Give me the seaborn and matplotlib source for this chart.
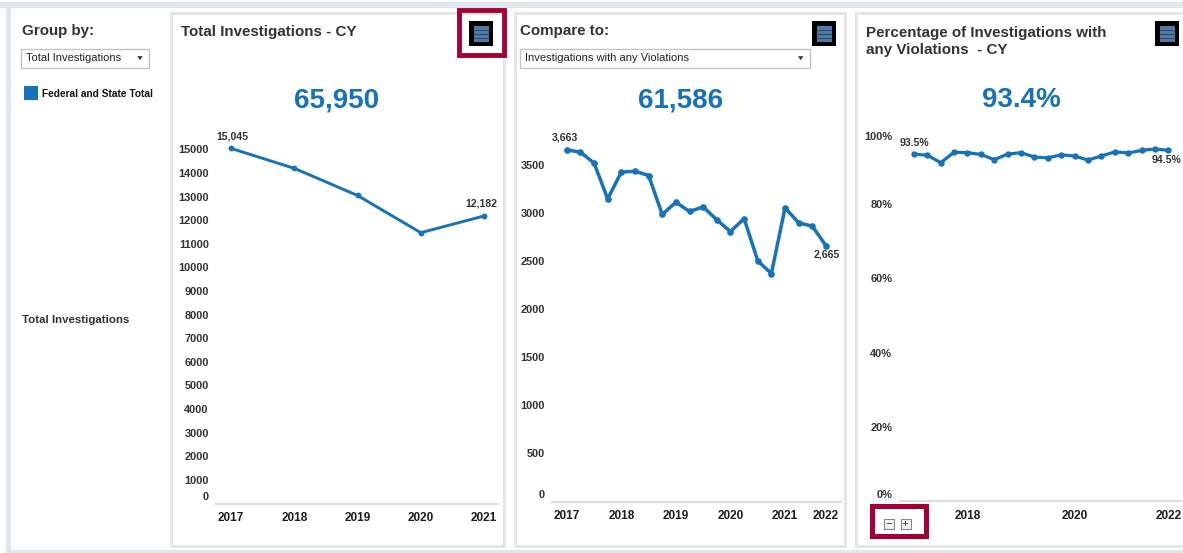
import matplotlib
matplotlib.use('Agg')
import matplotlib.pyplot as plt
from matplotlib.patches import Rectangle, Polygon
from matplotlib.transforms import Affine2D
import pandas as pd
import seaborn as sns

# data
years_total = ['2017', '2018', '2019', '2020', '2021']
total_inv = [15045, 14200, 13050, 11473, 12182]

violations = [3663, 3639, 3527, 3153, 3431, 3441, 3396, 2990, 3118, 3021,
              3069, 2934, 2812, 2948, 2507, 2375, 3059, 2903, 2868, 2665]
pct_violations = [93.5, 93.2, 91.2, 94.0, 93.9, 93.4, 92.0, 93.5, 93.9, 92.7,
                  92.5, 93.3, 93.0, 91.9, 93.0, 94.1, 93.8, 94.5, 94.9, 94.5]

ticks_total = list(range(0, 16000, 1000))
ticks_viol = list(range(0, 4000, 500))
ticks_pct = [0, 20, 40, 60, 80, 100]
xticks_viol = [0, 4, 8, 12, 16, 19]
xlabels_viol = ['2017', '2018', '2019', '2020', '2021', '2022']
xticks_pct = [4, 12, 19]
xlabels_pct = ['2018', '2020', '2022']

BLUE = '#1672b9'
DARK = '#333333'
W, H = 1183, 553

sns.set_theme(style='white')
plt.rcParams['font.family'] = ['Liberation Sans', 'DejaVu Sans']

fig = plt.figure(figsize=(W / 100, H / 100), dpi=100, facecolor='white')

# background layer in pixel coordinates
bg = fig.add_axes([0, 0, 1, 1])
bg.set_xlim(0, W)
bg.set_ylim(H, 0)
bg.axis('off')


def box(x0, y0, x1, y1, **kw):
    bg.add_patch(Rectangle((x0, y0), x1 - x0, y1 - y0, **kw))


def label(x, y, s, size, color=DARK, ha='left', weight='bold', **kw):
    bg.text(x, y + 1, s, fontsize=size, color=color, ha=ha, va='center', fontweight=weight, **kw)


def menu_icon(x, y):
    box(x, y, x + 24, y + 25, fc='black', ec='none')
    box(x + 5, y + 4.5, x + 20, y + 21, fc='#4f7aa6', ec='none')
    for dy in (8.5, 12.5, 16.5):
        box(x + 5, y + dy, x + 20, y + dy + 1, fc='#33485f', ec='none')


def dropdown(x0, x1, y0, y1, s):
    box(x0, y0, x1, y1, fc='white', ec='#c4c4c4', lw=1)
    label(x0 + 5, (y0 + y1) / 2 - 1, s, 8.05, color='#222222', weight='normal')
    bg.add_patch(Polygon([(x1 - 11.7, y0 + 7.7), (x1 - 6.3, y0 + 7.7), (x1 - 9, y0 + 11.7)], fc='#333333', ec='none'))


# page frame
box(0, 2, W, 8, fc='#dfe8f1', ec='none')
box(6, 2, 11, H, fc='#dfe8f1', ec='none')
box(6, 550, W, H, fc='#dfe8f1', ec='none')
for x0, x1 in [(171.5, 504.5), (514.7, 845), (856.5, W + 6)]:
    box(x0, 12.5, x1, 546, fc='white', ec='#e6e6e6', lw=2.2)

# left panel
label(22, 29.5, 'Group by:', 10.9)
dropdown(21.5, 149, 48.5, 67.5, 'Total Investigations')
box(24, 86, 38, 100, fc=BLUE, ec='none')
label(42.5, 93, 'Federal and State Total', 7.3, color='#111111')
label(22, 319, 'Total Investigations', 8.25)

# panel headers
label(181, 31, 'Total Investigations - CY', 10.9)
label(520, 30, 'Compare to:', 10.9)
dropdown(520.5, 809.7, 48.5, 67.5, 'Investigations with any Violations')
label(866, 31.5, 'Percentage of Investigations with', 10.9)
label(866, 49, 'any Violations  - CY', 10.9)
for s, x in [('65,950', 337), ('61,586', 680.5), ('93.4%', 1021)]:
    label(x, 99, s, 20, color=BLUE, ha='center')

menu_icon(469, 21)
menu_icon(812.5, 21)
menu_icon(1155, 21)

# red highlight boxes
box(458.9, 10.4, 503.6, 55, fc='none', ec='#a50034', lw=3.5)
box(871.8, 505.8, 925.8, 535.8, fc='none', ec='#a50034', lw=3.6)
for x in (884.5, 901):
    box(x, 518.5, x + 10, 528.5, fc='#f4f4f4', ec='#888888', lw=0.8)
box(887, 523, 892, 524, fc='#555555', ec='none')
box(903.5, 523, 908.5, 524, fc='#555555', ec='none')
box(905.5, 521, 906.5, 526, fc='#555555', ec='none')


def chart(x0, x1, y_top, y_bot, values, xlim, ylim, yticks, yfmt, xticks, xlabels, lw, ms):
    ax = fig.add_axes([x0 / W, 1 - y_bot / H, (x1 - x0) / W, (y_bot - y_top) / H])
    ax.patch.set_alpha(0)
    df = pd.DataFrame({'x': range(len(values)), 'y': values})
    sns.lineplot(data=df, x='x', y='y', ax=ax, color=BLUE, lw=lw, marker='o', ms=ms, mew=0, clip_on=False)
    ax.set_xlim(*xlim)
    ax.set_ylim(*ylim)
    ax.set_xlabel('')
    ax.set_ylabel('')
    ax.set_xticks(xticks)
    ax.set_xticklabels(xlabels, fontsize=8.5, fontweight='bold', color='#1c1c1c')
    ax.set_yticks(yticks)
    ax.set_yticklabels([yfmt(v) for v in yticks], fontsize=7.9, fontweight='bold', color=DARK)
    ax.tick_params(axis='x', length=0, pad=6.3)
    ax.tick_params(axis='y', length=0, pad=5.2)
    sns.despine(ax=ax, left=True, right=True)
    ax.spines['top'].set_color('#cccccc')
    ax.spines['top'].set_linewidth(0.9)
    ax.spines['bottom'].set_color('#dddddd')
    ax.spines['bottom'].set_linewidth(1.6)
    return ax


# main charts, axes limits set so the points land where they do in the picture
ax1 = chart(216, 498, 130, 503.5, total_inv, (-0.237, 4.22), (0, 15824), ticks_total, str,
            list(range(5)), years_total, 2.1, 4.2)
ax2 = chart(552, 840.7, 130, 501.5, violations, (-1.08, 20.08), (0, 3870), ticks_viol, str,
            xticks_viol, xlabels_viol, 2.5, 4.8)
ax3 = chart(899.5, 1183, 130, 501, pct_violations, (-1.08, 20.1), (0, 100), ticks_pct,
            lambda v: f'{v}%', xticks_pct, xlabels_pct, 2.3, 4.6)


def shift_label(ax, i, dy):
    # move one y tick label by dy pixels, up is positive
    t = ax.get_yticklabels()[i]
    t.set_transform(t.get_transform() + Affine2D().translate(0, dy))


# bottom labels of the y axes sit above the baseline, the top 100% below the line
shift_label(ax1, 0, 7)
shift_label(ax2, 0, 7)
shift_label(ax3, 0, 7)
shift_label(ax3, -1, -6.5)
for i in range(1, len(ticks_viol)):
    shift_label(ax2, i, 1)

# end point labels
lab = dict(fontsize=7.6, fontweight='bold', color=DARK, ha='center', va='center')
ax1.annotate('15,045', (0, total_inv[0]), xytext=(1, 12), textcoords='offset pixels', **lab)
ax1.annotate('12,182', (4, total_inv[4]), xytext=(-3, 12), textcoords='offset pixels', **lab)
ax2.annotate('3,663', (0, violations[0]), xytext=(-2, 12), textcoords='offset pixels', **lab)
ax2.annotate('2,665', (19, violations[19]), xytext=(1, -9), textcoords='offset pixels', **lab)
ax3.annotate('93.5%', (0, pct_violations[0]), xytext=(0, 11), textcoords='offset pixels', **lab)
ax3.annotate('94.5%', (19, pct_violations[19]), xytext=(-2, -10), textcoords='offset pixels',
             annotation_clip=False, **lab)

fig.savefig('out.png', dpi=100)
